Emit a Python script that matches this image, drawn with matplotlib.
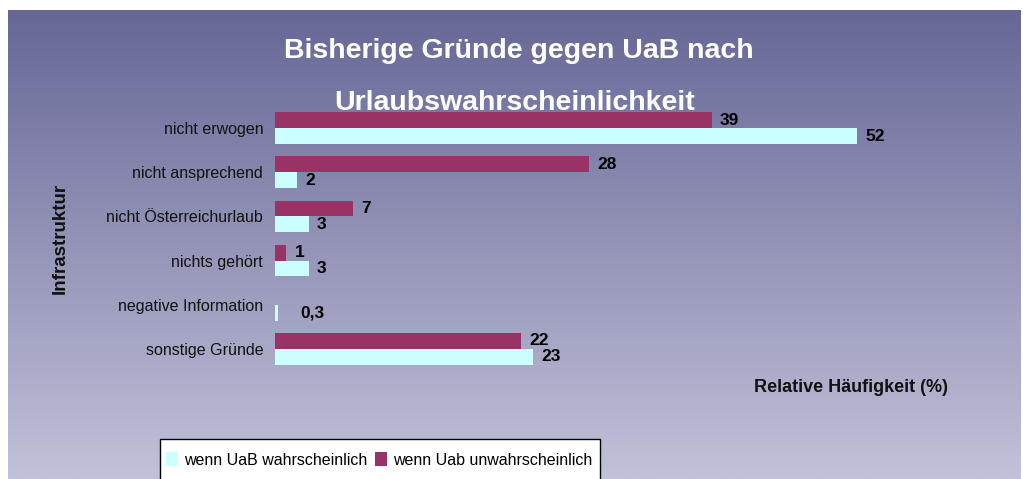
import numpy as np
import matplotlib
matplotlib.use("Agg")
import matplotlib.pyplot as plt
from matplotlib.patches import Rectangle

categories = ["nicht erwogen", "nicht ansprechend", "nicht Österreichurlaub",
              "nichts gehört", "negative Information", "sonstige Gründe"]
wahrscheinlich = [52, 2, 3, 3, 0.3, 23]
unwahrscheinlich = [39, 28, 7, 1, None, 22]
labels_w = ["52", "2", "3", "3", "0,3", "23"]
labels_u = ["39", "28", "7", "1", "", "22"]

plt.rcParams['font.family'] = ["Liberation Sans", "DejaVu Sans"]

W, H = 1023, 479
fig = plt.figure(figsize=(W / 100, H / 100), dpi=100)
fig.patch.set_facecolor("white")

# gradient background panel
bg = fig.add_axes([8 / W, 0, (1021 - 8) / W, (H - 10) / H], zorder=0)
top = np.array([0x66, 0x67, 0x96]) / 255
bot = np.array([0xc1, 0xc1, 0xd9]) / 255
t = np.linspace(0, 1, 256)[:, None]
grad = top[None, :] * (1 - t) + bot[None, :] * t
bg.imshow(grad[:, None, :], aspect="auto", extent=[0, 1, 0, 1])
bg.set_axis_off()

# main axes
x0, x1 = 275, 275 + 55 * 11.2
ytop, ybot = 106, 371
ax = fig.add_axes([x0 / W, 1 - ybot / H, (x1 - x0) / W, (ybot - ytop) / H], zorder=1)
ax.patch.set_alpha(0)
pos = np.arange(len(categories))
h = 0.36
maroon = "#993366"
cyan = "#ccffff"
uvals = [v if v is not None else 0 for v in unwahrscheinlich]
ax.barh(pos + h / 2, wahrscheinlich, height=h, color=cyan, label="wenn UaB wahrscheinlich")
ax.barh(pos - h / 2, uvals, height=h, color=maroon, label="wenn Uab unwahrscheinlich")
ax.set_xlim(0, 55)
ax.set_ylim(len(categories) - 0.5, -0.5)
for s in ax.spines.values():
    s.set_visible(False)
ax.set_xticks([])
ax.set_yticks(pos)
ax.set_yticklabels(categories, fontsize=11.5, color="#111111")
ax.tick_params(axis="y", length=0, pad=8.5)

for i in pos:
    off = 16 if wahrscheinlich[i] < 1 else 6
    ax.annotate(labels_w[i], (wahrscheinlich[i], i + h / 2), xytext=(off, 0),
                textcoords="offset points", va="center", ha="left",
                fontsize=12.5, fontweight="bold")
    if labels_u[i]:
        ax.annotate(labels_u[i], (uvals[i], i - h / 2), xytext=(6, 0),
                    textcoords="offset points", va="center", ha="left",
                    fontsize=12.5, fontweight="bold")

# title
fig.text(519 / W, 1 - 58 / H, "Bisherige Gründe gegen UaB nach", ha="center",
         va="baseline", color="white", fontsize=20.5, fontweight="bold")
fig.text(515 / W, 1 - 110 / H, "Urlaubswahrscheinlichkeit", ha="center",
         va="baseline", color="white", fontsize=20.5, fontweight="bold")

fig.text(60 / W, 1 - 238 / H, "Infrastruktur", rotation=90, ha="center", va="center",
         fontsize=13.5, fontweight="bold", color="#111111")
fig.text(851 / W, 1 - 387 / H, "Relative Häufigkeit (%)", ha="center", va="center",
         fontsize=13, fontweight="bold", color="#111111")

# legend box runs off the bottom edge, as in the original
box = Rectangle((160 / W, -10 / H), 440 / W, (H - 439 + 10) / H, transform=fig.transFigure,
                facecolor="white", edgecolor="black", linewidth=1.0, zorder=2)
fig.patches.append(box)
handles, labs = ax.get_legend_handles_labels()
leg = fig.legend(handles, labs, loc="center left", bbox_to_anchor=(163 / W, 1 - 460 / H),
                 ncol=2, frameon=False, fontsize=11.5,
                 handlelength=0.75, handleheight=0.9, handletextpad=0.35,
                 columnspacing=0.5, borderpad=0.2, borderaxespad=0)
leg.set_zorder(3)

fig.savefig("out.png", dpi=100)
